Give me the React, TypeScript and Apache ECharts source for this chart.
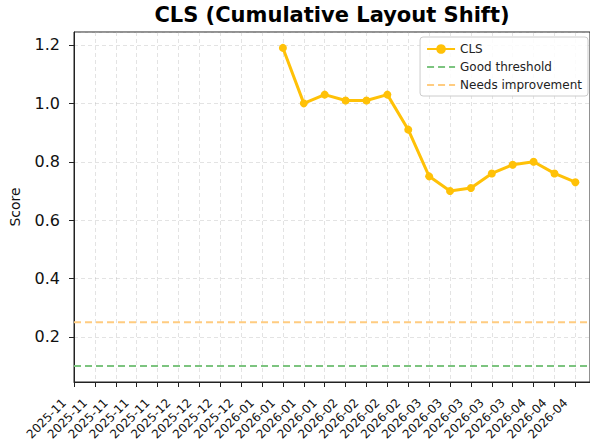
import React, { useEffect, useRef } from "react";
import * as echarts from "echarts";

const MONTHS = [
  "2025-11", "2025-11", "2025-11", "2025-11", "2025-11",
  "2025-12", "2025-12", "2025-12", "2025-12",
  "2026-01", "2026-01", "2026-01", "2026-01",
  "2026-02", "2026-02", "2026-02", "2026-02",
  "2026-03", "2026-03", "2026-03", "2026-03", "2026-03",
  "2026-04", "2026-04", "2026-04",
];
const CLS_VALUES: (number | null)[] = [
  null, null, null, null, null, null, null, null, null, null,
  1.19, 1.0, 1.03, 1.01, 1.01, 1.03, 0.91, 0.75, 0.7, 0.71, 0.76, 0.79, 0.8, 0.76, 0.73,
];
const GOOD_THRESHOLD = 0.1;
const NEEDS_IMPROVEMENT = 0.25;
const Y_TICKS = [0.2, 0.4, 0.6, 0.8, 1.0, 1.2];

const FONT = "DejaVu Sans";

export default function App() {
  const ref = useRef<HTMLDivElement>(null);
  useEffect(() => {
    if (!ref.current) return;
    const chart = echarts.init(ref.current, null, { renderer: "svg" });
    const vals = CLS_VALUES.filter((v) => v != null) as number[];
    const lo = Math.min(GOOD_THRESHOLD, ...vals);
    const hi = Math.max(NEEDS_IMPROVEMENT, ...vals);
    const pad = (hi - lo) * 0.05;
    const data = CLS_VALUES.map((v, i) => [i, v]).filter((p) => p[1] != null);
    const xMax = MONTHS.length - 1 + 0.7;
    const isTick = (v: number) => Y_TICKS.some((t) => Math.abs(t - v) < 1e-6);
    const hLine = (y: number) => [
      [0, y],
      [xMax, y],
    ];

    chart.setOption({
      animation: false,
      textStyle: { fontFamily: FONT },
      graphic: [
        {
          type: "text",
          x: 332,
          y: 4,
          style: {
            text: "CLS (Cumulative Layout Shift)",
            fontFamily: FONT,
            fontSize: 21,
            fontWeight: "bold",
            fill: "#000",
            textAlign: "center",
          },
        },
      ],
      grid: {
        left: 71,
        right: -5,
        top: 32,
        bottom: 62,
        show: true,
        borderColor: "#222",
        borderWidth: 1,
      },
      legend: {
        orient: "vertical",
        right: 2,
        top: 37,
        backgroundColor: "rgba(255,255,255,0.85)",
        borderColor: "#ccc",
        borderWidth: 1,
        borderRadius: 3,
        padding: [6, 6, 5, 6],
        itemGap: 6,
        itemWidth: 28,
        itemHeight: 12,
        textStyle: { fontFamily: FONT, fontSize: 12, color: "#222" },
        data: [
          { name: "CLS" },
          { name: "Good threshold", itemStyle: { opacity: 0 } },
          { name: "Needs improvement", itemStyle: { opacity: 0 } },
        ],
      },
      xAxis: {
        type: "value",
        min: 0,
        max: xMax,
        interval: 1,
        axisLine: { show: true, lineStyle: { color: "#222", width: 1 } },
        axisTick: { show: true, inside: false, length: 5, lineStyle: { color: "#222" } },
        axisLabel: {
          rotate: 45,
          fontSize: 12,
          color: "#111",
          fontFamily: FONT,
          margin: 9,
          padding: [0, 14, 0, 0],
          showMaxLabel: false,
          formatter: (v: number) =>
            Number.isInteger(v) && MONTHS[v] !== undefined ? MONTHS[v] : "",
        },
        splitLine: {
          show: true,
          lineStyle: { color: "rgba(176,176,176,0.35)", type: [4, 3], width: 1 },
        },
      },
      yAxis: {
        type: "value",
        min: lo - pad,
        max: hi + pad,
        splitNumber: 6,
        name: "Score",
        nameLocation: "middle",
        nameGap: 52,
        nameTextStyle: { fontFamily: FONT, fontSize: 14, color: "#111" },
        axisLine: { show: true, lineStyle: { color: "#222", width: 1 } },
        axisTick: { show: true, inside: false, length: 5, lineStyle: { color: "#222" } },
        axisLabel: {
          fontSize: 16,
          color: "#111",
          fontFamily: FONT,
          margin: 14,
          showMinLabel: false,
          showMaxLabel: false,
          formatter: (v: number) => (isTick(v) ? v.toFixed(1) : ""),
        },
        splitLine: {
          show: true,
          lineStyle: { color: "rgba(176,176,176,0.35)", type: [4, 3], width: 1 },
        },
      },
      series: [
        {
          name: "CLS",
          type: "line",
          data,
          symbol: "circle",
          symbolSize: 8,
          color: "#FFC107",
          lineStyle: { color: "#FFC107", width: 3 },
          itemStyle: { color: "#FFC107" },
          z: 5,
        },
        {
          name: "Good threshold",
          type: "line",
          data: hLine(GOOD_THRESHOLD),
          symbol: "none",
          silent: true,
          color: "#7cc47f",
          lineStyle: { color: "#7cc47f", width: 2, type: [7, 4] },
        },
        {
          name: "Needs improvement",
          type: "line",
          data: hLine(NEEDS_IMPROVEMENT),
          symbol: "none",
          silent: true,
          color: "#ffcc80",
          lineStyle: { color: "#ffcc80", width: 2, type: [7, 4] },
        },
      ],
    });
    return () => chart.dispose();
  }, []);
  return <div ref={ref} style={{ width: 590, height: 444, position: "absolute", left: 0, top: 0 }} />;
}
